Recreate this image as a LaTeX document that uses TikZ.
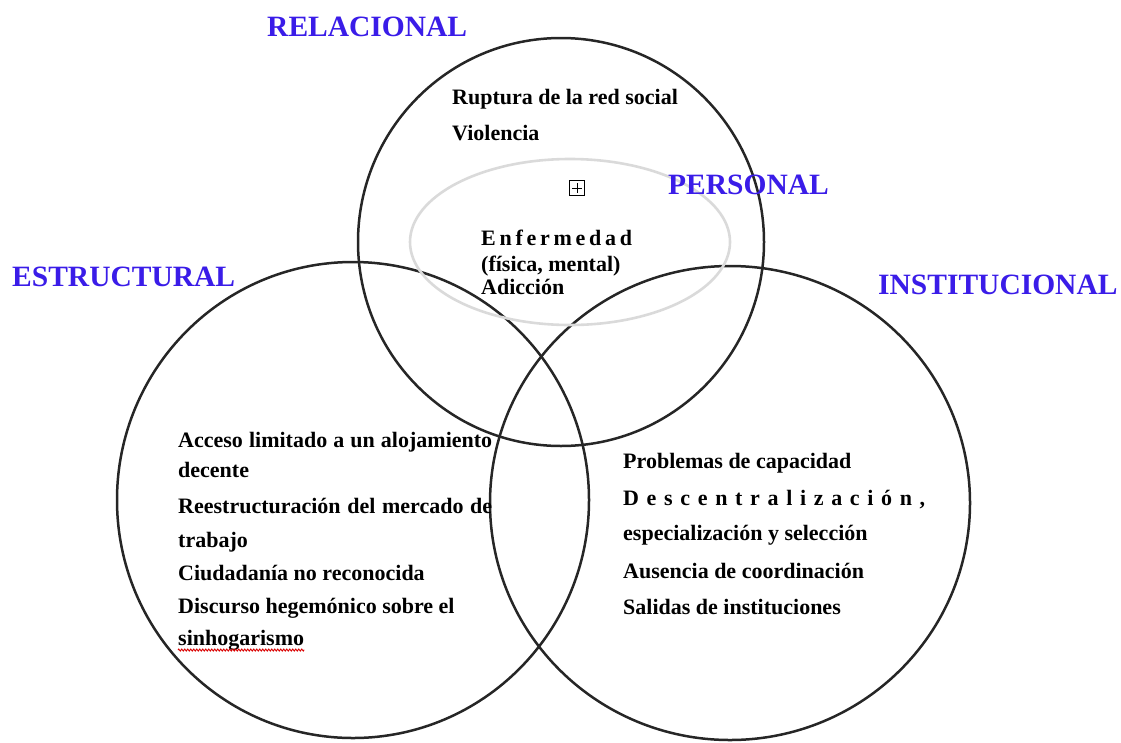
\documentclass[tikz,border=0pt]{standalone}
\usepackage{fontspec}
\setmainfont{Liberation Serif}
\usetikzlibrary{decorations.pathmorphing}
\definecolor{lblblue}{RGB}{58,28,232}
\definecolor{ringgrey}{RGB}{218,218,218}
\tikzset{
  ring/.style={draw=black!85, line width=2.5pt},
  inner ring/.style={draw=ringgrey, line width=2.6pt},
  lbl/.style={anchor=base west, inner sep=0pt, text=lblblue, font=\fontsize{29.5}{30}\selectfont\bfseries},
  body/.style={anchor=base west, inner sep=0pt, font=\fontsize{22}{24}\selectfont\bfseries},
}
\begin{document}
\begin{tikzpicture}[x=1pt,y=-1pt]
\useasboundingbox (0,0) rectangle (1121,742);
% rings
\draw[ring] (561,242) ellipse [x radius=203, y radius=204];
\draw[ring] (353,500) ellipse [x radius=236, y radius=238];
\draw[ring] (730,503) ellipse [x radius=240, y radius=237];
\draw[inner ring] (570,242) ellipse [x radius=160, y radius=83];
% boxed plus
\node[draw, line width=0.9pt, minimum size=15pt, inner sep=0pt] (plus) at (577,188) {};
\draw[line width=0.9pt] ([xshift=3pt]plus.west) -- ([xshift=-3pt]plus.east);
\draw[line width=0.9pt] ([yshift=-3pt]plus.north) -- ([yshift=3pt]plus.south);
% labels
\node[lbl] (rel) at (267,36) {RELACIONAL};
\node[lbl] (per) at (668,194) {PERSONAL};
\node[lbl] (est) at (12,286) {ESTRUCTURAL};
\node[lbl] (ins) at (878,294) {INSTITUCIONAL};
% relational
\node[body] (r1) at (452,104) {Ruptura de la red social};
\node[body] (r2) at (452,140) {Violencia};
% personal
\node[body] (p1) at (481,245) {\makebox[151pt][s]{E\hfill n\hfill f\hfill e\hfill r\hfill m\hfill e\hfill d\hfill a\hfill d}};
\node[body] (p2) at (481,271) {(física, mental)};
\node[body] (p3) at (481,294) {Adicción};
% structural
\node[body] (s1) at (178,447) {\makebox[314pt][s]{Acceso limitado a un alojamiento}};
\node[body] (s2) at (178,477) {decente};
\node[body] (s3) at (178,513) {\makebox[314pt][s]{Reestructuración del mercado de}};
\node[body] (s4) at (178,547) {trabajo};
\node[body] (s5) at (178,580) {Ciudadanía no reconocida};
\node[body] (s6) at (178,613) {Discurso hegemónico sobre el};
\node[body] (s7) at (178,645) {sinhogarismo};
\draw[red!85!black, line width=0.9pt, decorate, decoration={zigzag, segment length=3pt, amplitude=1pt}]
  ([yshift=-5pt]s7.base west) -- ([yshift=-5pt]s7.base east);
% institutional
\node[body] (i1) at (623,468) {Problemas de capacidad};
\node[body] (i2) at (623,505) {\makebox[302pt][s]{D\hfill e\hfill s\hfill c\hfill e\hfill n\hfill t\hfill r\hfill a\hfill l\hfill i\hfill z\hfill a\hfill c\hfill i\hfill ó\hfill n\hfill ,}};
\node[body] (i3) at (623,540) {especialización y selección};
\node[body] (i4) at (623,578) {Ausencia de coordinación};
\node[body] (i5) at (623,614) {Salidas de instituciones};
\end{tikzpicture}
\end{document}
